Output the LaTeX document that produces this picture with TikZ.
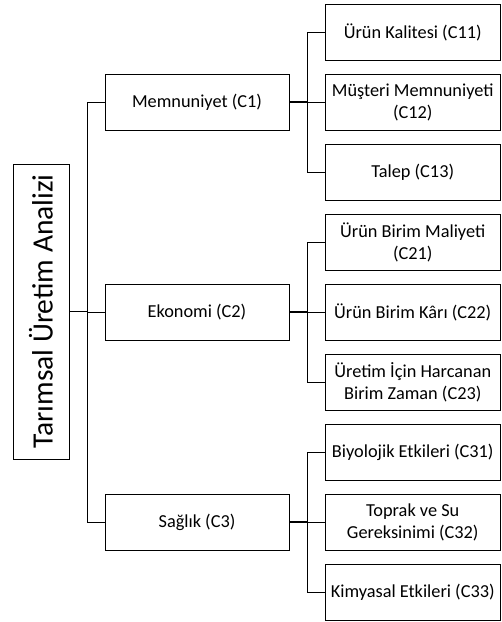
\documentclass[tikz,border=0pt]{standalone}
\usepackage{fontspec}
\setmainfont{Carlito}
\usepackage{tikz}
\usetikzlibrary{positioning}
\tikzset{rootbox/.style={draw=black, line width=1pt, rotate=90, minimum width=295pt, minimum height=56pt, inner sep=0pt, font=\fontsize{29.5}{35}\selectfont},
    mainbox/.style={draw=black, line width=1pt, minimum width=184pt, minimum height=56pt, inner sep=0pt, align=center, font=\fontsize{18.3}{22}\selectfont},
    subbox/.style={draw=black, line width=1pt, minimum width=175.5pt, minimum height=56pt, inner sep=0pt, align=center, font=\fontsize{18.3}{22}\selectfont},
    link/.style={line width=1pt}}

\begin{document}
\begin{tikzpicture}[x=1pt, y=-1pt]
            \useasboundingbox (0,0) rectangle (502,622);
            \node[rootbox](root) at (41,311.5){Tarımsal Üretim Analizi};
            \node[mainbox](c1) at (197,102){Memnuniyet (C1)};
            \node[mainbox](c2) at (197,312){Ekonomi (C2)};
            \node[mainbox](c3) at (197,522){Sağlık (C3)};
            \node[subbox](c11) at (412.75,32){Ürün Kalitesi (C11)};
            \node[subbox](c12) at (412.75,102){Müşteri Memnuniyeti\\(C12)};
            \node[subbox](c13) at (412.75,172){Talep (C13)};
            \node[subbox](c21) at (412.75,242){Ürün Birim Maliyeti\\(C21)};
            \node[subbox](c22) at (412.75,312){Ürün Birim Kârı (C22)};
            \node[subbox](c23) at (412.75,382){Üretim İçin Harcanan\\Birim Zaman (C23)};
            \node[subbox](c31) at (412.75,452){Biyolojik Etkileri (C31)};
            \node[subbox](c32) at (412.75,522){Toprak ve Su\\Gereksinimi (C32)};
            \node[subbox](c33) at (412.75,592){Kimyasal Etkileri (C33)};
            \coordinate(b0) at ([xshift=18pt]root.south);
            \coordinate(b1) at ([xshift=18pt]c1.east);
            \coordinate(b2) at ([xshift=18pt]c2.east);
            \coordinate(b3) at ([xshift=18pt]c3.east);
            \draw[link, line width=1.5pt](root.south)--(b0);
            \draw[link](b0)|-(c1.west);
            \draw[link](b0)|-(c2.west);
            \draw[link](b0)|-(c3.west);
            \draw[link, line width=1.5pt](c1.east)--(b1);
            \draw[link](b1)|-(c11.west);
            \draw[link](b1)|-(c12.west);
            \draw[link](b1)|-(c13.west);
            \draw[link, line width=1.5pt](c2.east)--(b2);
            \draw[link](b2)|-(c21.west);
            \draw[link](b2)|-(c22.west);
            \draw[link](b2)|-(c23.west);
            \draw[link, line width=1.5pt](c3.east)--(b3);
            \draw[link](b3)|-(c31.west);
            \draw[link](b3)|-(c32.west);
            \draw[link](b3)|-(c33.west);
        \end{tikzpicture}
\end{document}
